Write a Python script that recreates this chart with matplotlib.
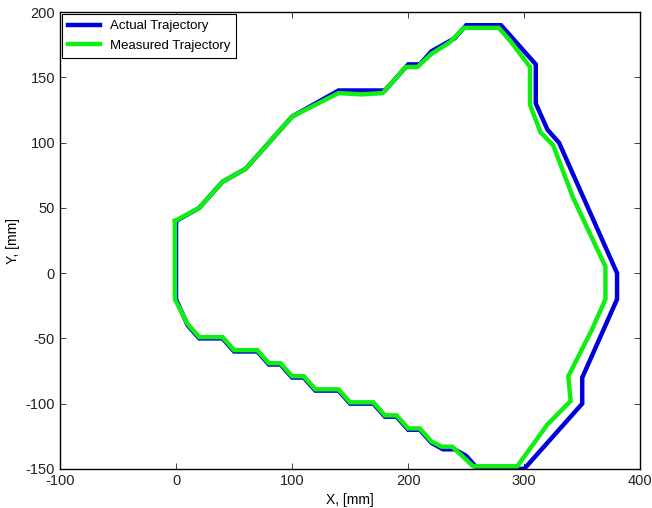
import matplotlib
matplotlib.use("Agg")
import matplotlib.pyplot as plt

actual_x = [0, 20, 40, 60, 100, 140, 180, 200, 210, 220, 240, 250, 280, 290, 310, 310, 320, 330, 380, 380,
            350, 350, 300, 260, 250, 240, 230, 220, 210, 200, 190, 180, 170, 150, 140, 120, 110, 100, 90, 80,
            70, 50, 40, 20, 10, 0, 0]
actual_y = [40, 50, 70, 80, 120, 140, 140, 160, 160, 170, 180, 190, 190, 180, 160, 130, 110, 100, 0, -20,
            -80, -100, -150, -150, -140, -135, -135, -130, -120, -120, -110, -110, -100, -100, -90, -90, -80, -80, -70, -70,
            -60, -60, -50, -50, -40, -20, 40]

meas_x = [-1, 20, 40, 60, 100, 140, 160, 178, 198, 208, 220, 236, 248, 278, 288, 305, 305, 314, 325, 342, 370, 370,
          358, 338, 340, 320, 294, 256, 238, 229, 220, 210, 200, 190, 180, 170, 150, 140, 120, 110, 100, 90, 80,
          70, 50, 40, 20, 10, -1, -1]
meas_y = [40, 50, 70, 80, 120, 138, 137, 138, 158, 158, 168, 177, 188, 188, 178, 158, 129, 108, 98, 58, 5, -20,
          -44, -79, -98, -116, -148, -148, -133, -133, -129, -119, -119, -109, -109, -99, -99, -89, -89, -79, -79, -69, -69,
          -59, -59, -49, -49, -39, -20, 40]

x_ticks = [-100, 0, 100, 200, 300, 400]
y_ticks = [-150, -100, -50, 0, 50, 100, 150, 200]

plt.rcParams['font.family'] = ['Liberation Sans', 'DejaVu Sans']
plt.rcParams['axes.unicode_minus'] = False

fig = plt.figure(figsize=(6.52, 5.08), dpi=100)
ax = fig.add_axes([0.092, 0.077, 0.890, 0.899])

ax.plot(actual_x, actual_y, color='#0000dd', lw=3.2, label='Actual Trajectory', solid_joinstyle='miter')
ax.plot(meas_x, meas_y, color='#11ee11', lw=3.2, label='Measured Trajectory', solid_joinstyle='miter')

ax.set_xlim(-100, 400)
ax.set_ylim(-150, 200)
ax.set_xticks(x_ticks)
ax.set_yticks(y_ticks)
ax.tick_params(direction='in', top=True, right=True, labelsize=10.5, length=4, width=0.6, colors='#222222')
for s in ax.spines.values():
    s.set_linewidth(1.0)
ax.set_xlabel('X, [mm]', fontsize=10)
ax.set_ylabel('Y, [mm]', fontsize=10)

leg = ax.legend(loc='upper left', fontsize=9.5, frameon=True, fancybox=False, framealpha=1,
                edgecolor='black', borderaxespad=0.15, handlelength=2.4, borderpad=0.45, labelspacing=0.55)
leg.get_frame().set_linewidth(0.8)

fig.savefig('out.png', dpi=100)
